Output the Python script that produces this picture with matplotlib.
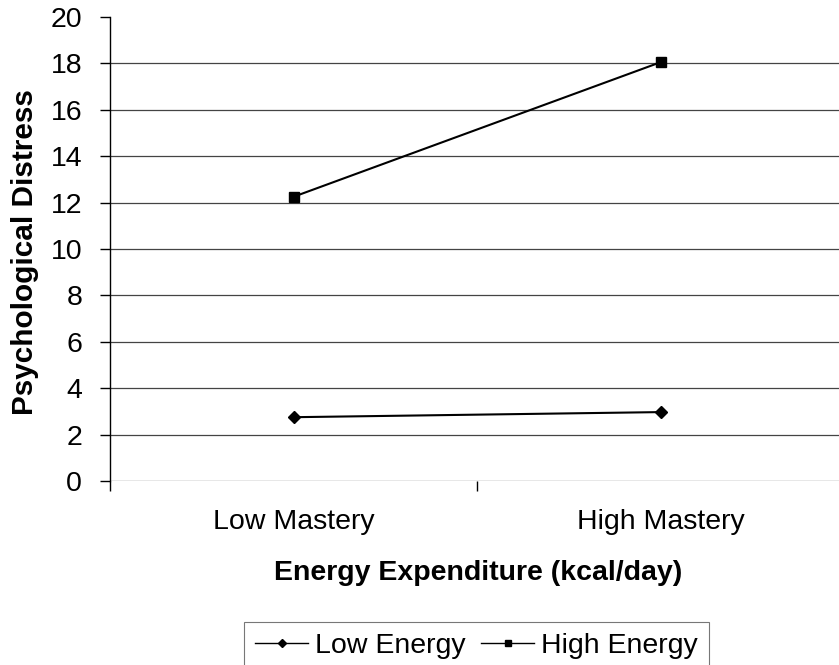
import matplotlib
matplotlib.use("Agg")
import matplotlib.pyplot as plt
from matplotlib.lines import Line2D

plt.rcParams['font.family'] = ['Liberation Sans', 'DejaVu Sans']

categories = ["Low Mastery", "High Mastery"]
low_energy = [2.75, 2.97]
high_energy = [12.25, 18.05]
yticks = [0, 2, 4, 6, 8, 10, 12, 14, 16, 18, 20]

W, H = 839, 665
fig = plt.figure(figsize=(W / 100, H / 100), dpi=100)
left, right, top, bottom = 110, 844, 17, 481
ax = fig.add_axes([left / W, 1 - bottom / H, (right - left) / W, (bottom - top) / H])

x = [0.5, 1.5]
for v in yticks[:-1]:
    ax.axhline(v, color='#444444', lw=0.9, zorder=1)
ax.plot(x, low_energy, color='black', lw=1.5, marker='D', ms=6.5, zorder=3, label='Low Energy')
ax.plot(x, high_energy, color='black', lw=1.5, marker='s', ms=7, zorder=3, label='High Energy')

ax.set_xlim(0, 2)
ax.set_ylim(0, 20)
ax.set_yticks(yticks)
ax.set_yticklabels([str(v) for v in yticks], fontsize=20.5)
ax.set_xticks([0, 1, 2])
ax.set_xticklabels([])
ax.tick_params(axis='y', direction='out', length=7, width=1, pad=13)
ax.tick_params(axis='x', direction='out', length=7, width=1)
for s in ['top', 'right']:
    ax.spines[s].set_visible(False)
ax.spines['bottom'].set_visible(False)
ax.spines['left'].set_color('black')
ax.spines['left'].set_linewidth(1)

for xi, lab in zip(x, categories):
    ax.text(xi, -1.75, lab, ha='center', va='center', fontsize=20.5, transform=ax.transData)

fig.text(478 / W, 1 - 580 / H, "Energy Expenditure (kcal/day)", ha='center', va='baseline',
         fontsize=20.5, fontweight='bold')
fig.text(25 / W, 1 - 252 / H, "Psychological Distress", ha='center', va='center',
         fontsize=21.4, fontweight='bold', rotation=90)

handles = [Line2D([0], [0], color='black', lw=1.0, marker='D', ms=4.5),
           Line2D([0], [0], color='black', lw=1.0, marker='s', ms=4.5)]
leg = fig.legend(handles, ['Low Energy', 'High Energy'], loc='upper left',
                 bbox_to_anchor=(244 / W, 1 - 622 / H), ncol=2, fontsize=20.5,
                 frameon=True, fancybox=False, edgecolor='#555555', handlelength=1.85,
                 handletextpad=0.25, columnspacing=0.55, borderpad=0.4, borderaxespad=0)
leg.get_frame().set_linewidth(0.8)

fig.savefig("out.png", dpi=100)
